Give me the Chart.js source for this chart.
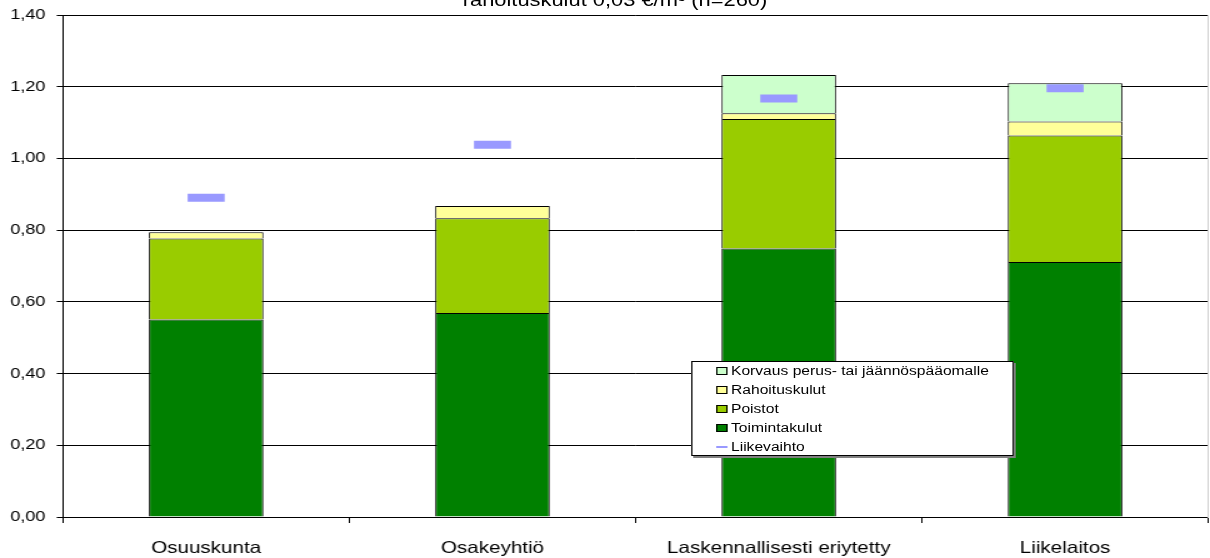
<!DOCTYPE html>
<html>
<head>
<meta charset="utf-8">
<script src="https://cdn.jsdelivr.net/npm/chart.js@4.4.1/dist/chart.umd.min.js"></script>
<style>
  html, body { margin: 0; padding: 0; background: #fff; overflow: hidden; }
  #stage {
    position: absolute; left: 0; top: 0; width: 968px; height: 558px;
    transform: scaleX(1.25); transform-origin: 0 0;
    font-family: "Liberation Sans", Arial, sans-serif; color: #000;
  }
  #chart { position: absolute; left: 0; top: 0; width: 968px; height: 558px; }
  #title {
    position: absolute; left: 8px; top: -7.6px; width: 968px; text-align: center;
    font-size: 17.5px; line-height: 17.5px; white-space: nowrap;
  }
  #legend {
    position: absolute; left: 552.5px; top: 360.7px; width: 258.7px; height: 95.3px;
    box-sizing: border-box; border: 1px solid #000; background: #fff;
    box-shadow: 1.6px 2px 0 #808080; font-size: 12.5px;
  }
  .row { display: flex; align-items: center; height: 19px; padding-left: 19.3px; white-space: nowrap; }
  .sw { box-sizing: border-box; width: 9.4px; height: 8.3px; border: 1px solid #000; margin-right: 2.6px; flex: none; }
  .sw.line { border: none; height: 2.5px; }
</style>
</head>
<body>
<div id="stage">
  <canvas id="chart" width="968" height="558"></canvas>
  <div id="title"></div>
  <div id="legend"></div>
</div>
<script>
// Categories along the x axis
const categories = ['Osuuskunta', 'Osakeyhtiö', 'Laskennallisesti eriytetty', 'Liikelaitos'];

// Cost components (€/m³), stacked bottom to top
const toimintakulut = [0.551, 0.569, 0.749, 0.711];
const poistot       = [0.226, 0.264, 0.361, 0.353];
const rahoituskulut = [0.017, 0.034, 0.016, 0.039];
const korvaus       = [null, null, 0.107, 0.107];

// Turnover (€/m³), drawn as short horizontal markers
const liikevaihto   = [0.890, 1.038, 1.167, 1.196];

// Value axis
const yMin = 0;
const yMax = 1.4;
const yStep = 0.2;

const titleText = 'rahoituskulut 0,03 €/m³ (n=260)';

const FONT = '"Liberation Sans", Arial, sans-serif';

const barSeries = [
  { label: 'Toimintakulut', data: toimintakulut, color: '#008000' },
  { label: 'Poistot', data: poistot, color: '#99CC00' },
  { label: 'Rahoituskulut', data: rahoituskulut, color: '#FFFF99' },
  { label: 'Korvaus perus- tai jäännöspääomalle', data: korvaus, color: '#CCFFCC' }
];
const lineColor = '#9999FF';

document.getElementById('title').textContent = titleText;

const datasets = barSeries.map(s => ({
  type: 'bar',
  label: s.label,
  data: s.data,
  stack: 'kulut',
  backgroundColor: s.color,
  borderColor: '#000',
  borderWidth: 1,
  categoryPercentage: 1,
  barPercentage: 0.4
}));
datasets.push({
  type: 'line',
  label: 'Liikevaihto',
  data: liikevaihto,
  stack: 'liikevaihto',
  order: -1,
  showLine: false,
  pointStyle: 'line',
  pointRadius: 14.8,
  pointHoverRadius: 14.8,
  pointBorderWidth: 8,
  pointHoverBorderWidth: 8,
  borderColor: lineColor,
  backgroundColor: lineColor
});

const chart = new Chart(document.getElementById('chart'), {
  type: 'bar',
  data: { labels: categories, datasets },
  options: {
    responsive: false,
    animation: false,
    devicePixelRatio: 1,
    layout: { autoPadding: false, padding: { top: 15, right: 1.4, left: 0, bottom: 0 } },
    plugins: {
      legend: { display: false },
      tooltip: { enabled: false },
      title: { display: false }
    },
    scales: {
      x: {
        stacked: true,
        offset: true,
        grid: { display: true, drawOnChartArea: false, drawTicks: true, tickLength: 6, color: '#000', offset: true },
        border: { display: true, color: '#000', width: 1 },
        ticks: { color: '#000', font: { family: FONT, size: 16.5 }, padding: 16, maxRotation: 0, autoSkip: false },
        afterFit(scale) {
          scale.height = 41;
          scale.paddingLeft = 0;
          scale.paddingRight = 0;
        }
      },
      y: {
        stacked: true,
        min: yMin,
        max: yMax,
        ticks: {
          stepSize: yStep,
          color: '#000',
          font: { family: FONT, size: 14.5 },
          padding: 9,
          callback: v => Number(v).toFixed(2).replace('.', ',')
        },
        grid: { color: '#000', lineWidth: 1, drawTicks: true, tickLength: 5 },
        border: { display: true, color: '#000', width: 1 },
        afterFit(scale) {
          scale.width = 50.4;
          scale.paddingTop = 0;
          scale.paddingBottom = 0;
        }
      },
      // thin light frame line on the right edge of the plot area
      yFrame: {
        position: 'right',
        display: true,
        min: yMin,
        max: yMax,
        grid: { display: false, drawTicks: false },
        ticks: { display: false },
        border: { display: true, color: '#cfcfcf', width: 1 },
        afterFit(scale) {
          scale.width = 0;
          scale.paddingTop = 0;
          scale.paddingBottom = 0;
        }
      }
    }
  }
});

// Legend box: bar series top to bottom in stack order, then the turnover marker
const legend = document.getElementById('legend');
const legendItems = barSeries.slice().reverse().map(s => ({ label: s.label, color: s.color, line: false }));
legendItems.push({ label: 'Liikevaihto', color: lineColor, line: true });
legendItems.forEach(item => {
  const row = document.createElement('div');
  row.className = 'row';
  const sw = document.createElement('span');
  sw.className = item.line ? 'sw line' : 'sw';
  sw.style.background = item.color;
  const txt = document.createElement('span');
  txt.textContent = item.label;
  row.appendChild(sw);
  row.appendChild(txt);
  legend.appendChild(row);
});
</script>
</body>
</html>
